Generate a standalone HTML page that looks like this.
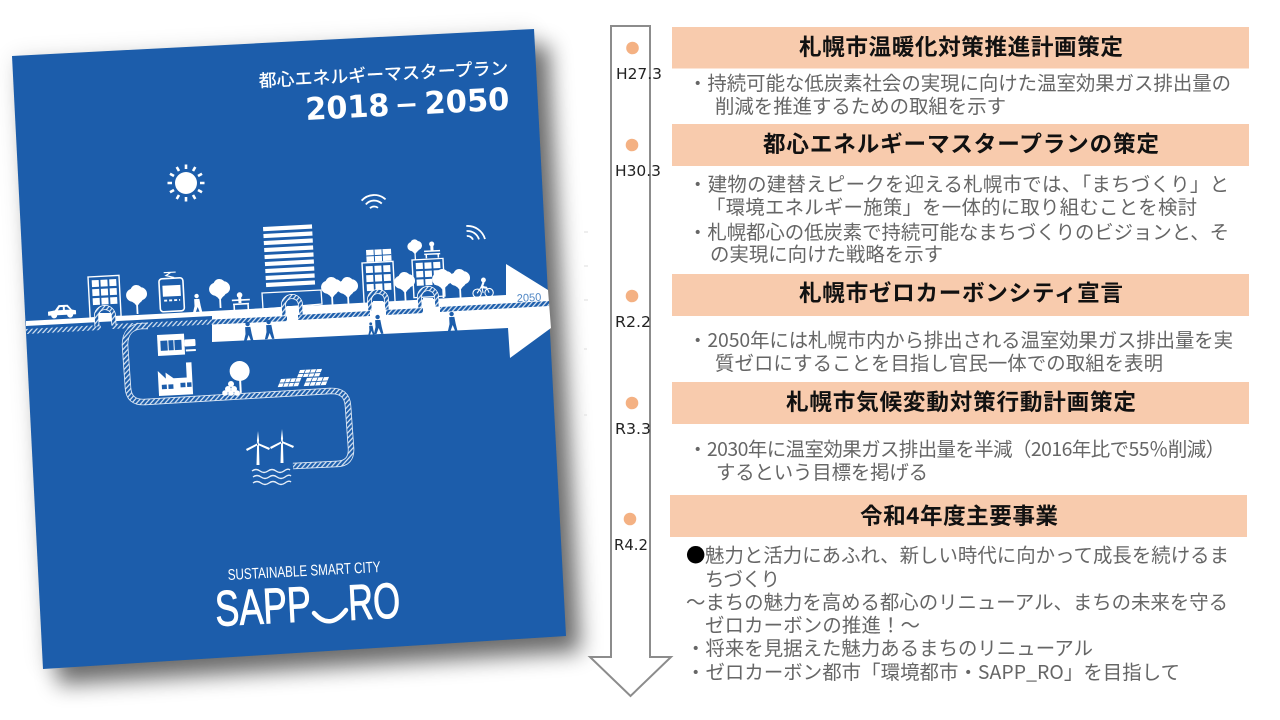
<!DOCTYPE html>
<html><head><meta charset="utf-8"><style>
html,body{margin:0;padding:0;background:#fff;width:1280px;height:720px;overflow:hidden}
svg{display:block}
.h{font-family:"Noto Sans CJK JP",sans-serif;font-weight:700;font-size:22.6px;fill:#111;text-anchor:middle}
.b{font-family:"Noto Sans CJK JP",sans-serif;font-size:19.4px;fill:#666}
.d{font-family:"DejaVu Sans",sans-serif;font-size:15px;fill:#222}
.w{font-family:"Liberation Sans","Noto Sans CJK JP",sans-serif;fill:#fff}
</style></head><body>
<svg width="1280" height="720" viewBox="0 0 1280 720" xmlns="http://www.w3.org/2000/svg">
<defs>
<filter id="sh" x="-20%" y="-20%" width="140%" height="140%"><feGaussianBlur stdDeviation="11"/></filter>
<filter id="s2" x="-5%" y="-5%" width="110%" height="110%"><feGaussianBlur stdDeviation="0.35"/></filter>
<pattern id="ht" width="5" height="5" patternUnits="userSpaceOnUse" patternTransform="rotate(-3)">
<rect width="5" height="5" fill="#1a5dab"/><path d="M-1,6 L6,-1 M-1,1 L1,-1 M4,6 L6,4" stroke="#dfe9f5" stroke-width="1.2"/></pattern>
<g id="tree"><circle cx="-4" cy="-8" r="6.5" fill="#fff"/><circle cx="4" cy="-9" r="6.5" fill="#fff"/><circle cx="0" cy="-12" r="6" fill="#fff"/><circle cx="0" cy="-6" r="6.5" fill="#fff"/><path d="M0,-4 V11 M-4,-3 L0,2 M4,-3 L0,2" stroke="#fff" stroke-width="1.8" fill="none"/></g>
<g id="person"><circle cx="0" cy="-8" r="2.2"/><path d="M-2.6,-5 H2.6 L3.6,2 L5,9 H2.6 L0.5,3 L-2,9 H-4.6 L-2.6,2 Z"/></g>
<g id="bldg"><rect x="0" y="0" width="31" height="41" fill="#1a5dab" stroke="#fff" stroke-width="1.4"/>
<g fill="#fff"><rect x="3.5" y="3.5" width="7" height="6.8"/><rect x="12.2" y="3.5" width="7" height="6.8"/><rect x="21" y="3.5" width="7" height="6.8"/><rect x="3.5" y="12.5" width="7" height="6.8"/><rect x="12.2" y="12.5" width="7" height="6.8"/><rect x="21" y="12.5" width="7" height="6.8"/><rect x="3.5" y="21.5" width="7" height="6.8"/><rect x="12.2" y="21.5" width="7" height="6.8"/><rect x="21" y="21.5" width="7" height="6.8"/></g></g>
<g id="arch"><path d="M-8.5,9 V-1 A8.5,8.5 0 0 1 8.5,-1 V9" fill="none" stroke="#fff" stroke-width="5"/><path d="M-8.5,9 V-1 A8.5,8.5 0 0 1 8.5,-1 V9" fill="none" stroke="url(#ht)" stroke-width="3.4"/></g>
<g id="turb"><path d="M-1.5,16 L-.7,-11 H.7 L1.5,16 Z M0,-18 L1.1,-8 L0,-5 L-1.1,-8 Z M0,-6 L12,-1 L11,1 L0,-4 Z M0,-6 L-12,0 L-11,2 L0,-4 Z" fill="#fff"/></g>
<g id="panel"><rect width="24" height="8" fill="#fff"/><path d="M6,0 V8 M12,0 V8 M18,0 V8 M0,4 H24" stroke="#1a5dab" stroke-width=".9"/></g>
</defs>

<!-- cover shadow -->
<polygon points="12,56 534,29 566,636 43,669" transform="translate(15,16)" fill="#000" opacity=".55" filter="url(#sh)"/>
<polygon points="12,56 534,29 566,636 43,669" fill="#000" opacity=".1" filter="url(#sh)"/>
<g filter="url(#s2)">
<polygon points="12,56 534,29 566,636 43,669" fill="#1a5dab"/>

<text class="w" transform="translate(259,87) rotate(-3)" font-size="17.6" font-weight="500" textLength="250" lengthAdjust="spacingAndGlyphs">都心エネルギーマスタープラン</text>
<text class="w" transform="translate(306,120) rotate(-3)" font-size="31" font-weight="700" style="font-family:'DejaVu Sans',sans-serif" textLength="84" lengthAdjust="spacingAndGlyphs">2018</text>
<text class="w" transform="translate(397,114) rotate(-3)" font-size="31" font-weight="700" style="font-family:'Liberation Sans',sans-serif" textLength="20" lengthAdjust="spacingAndGlyphs">–</text>
<text class="w" transform="translate(425,114) rotate(-3)" font-size="31" font-weight="700" style="font-family:'DejaVu Sans',sans-serif" textLength="85" lengthAdjust="spacingAndGlyphs">2050</text>

<!-- sun -->
<g transform="translate(186,183)"><circle r="11" fill="#fff"/>
<g stroke="#fff" stroke-width="2.6"><path d="M0,-14 V-18.5 M0,14 V18.5 M-14,0 H-18.5 M14,0 H18.5 M7,-12 L9.3,-16 M-7,-12 L-9.3,-16 M7,12 L9.3,16 M-7,12 L-9.3,16 M12,-7 L16,-9.3 M-12,-7 L-16,-9.3 M12,7 L16,9.3 M-12,7 L-16,9.3"/></g></g>

<!-- wifi -->
<g transform="translate(374,208) rotate(-3)" fill="none" stroke="#fff" stroke-width="1.8"><path d="M-12,-8 A17,17 0 0 1 12,-8 M-8,-4 A11,11 0 0 1 8,-4 M-4,0 A6,6 0 0 1 4,0"/></g>
<g transform="translate(467,240) rotate(-3)" fill="none" stroke="#fff" stroke-width="1.8"><path d="M0,-14 A18,18 0 0 1 18,0 M0,-9 A12,12 0 0 1 12,0 M0,-4 A6,6 0 0 1 6,0"/></g>

<!-- tower -->
<g transform="translate(263,227) rotate(-3)" fill="#fff"><rect x="0" y="0" width="49" height="4.2"/><rect x="0" y="7" width="49" height="4.2"/><rect x="0" y="14" width="49" height="4.2"/><rect x="0" y="21" width="49" height="4.2"/><rect x="0" y="28" width="49" height="4.2"/><rect x="0" y="35" width="49" height="4.2"/><rect x="0" y="42" width="49" height="4.2"/><rect x="0" y="49" width="49" height="4.2"/><rect x="0" y="56" width="49" height="4.2"/></g>
<polygon points="262,293 321,290 322,304 263,309" fill="#1a5dab" stroke="#fff" stroke-width="1.3"/>

<!-- buildings -->
<use href="#bldg" transform="translate(88,277) rotate(-3)"/>
<use href="#bldg" transform="translate(362,263) rotate(-3)"/>
<use href="#bldg" transform="translate(412,260) rotate(-3) scale(1,.92)"/>
<g transform="translate(366,250) rotate(-3)"><rect width="25" height="12" fill="#fff"/><path d="M8,0 V12 M16,0 V12 M0,6 H25" stroke="#1a5dab" stroke-width="1"/></g>

<!-- trees -->
<use href="#tree" transform="translate(137,303) rotate(-3)"/>
<use href="#tree" transform="translate(220,297) rotate(-3)"/>
<use href="#tree" transform="translate(332,295) rotate(-3)"/>
<use href="#tree" transform="translate(348,295) rotate(-3)"/>
<use href="#tree" transform="translate(405,290) rotate(-3)"/>
<use href="#tree" transform="translate(443,287) rotate(-3)"/>
<use href="#tree" transform="translate(460,287) rotate(-3)"/>
<use href="#tree" transform="translate(415,252) rotate(-3) scale(.7)"/>

<!-- car -->
<g transform="translate(62,312) rotate(-3)" fill="#fff"><path d="M-14,3 V-1 L-7,-2 L-3,-7 H6 L10,-2 L14,-1 V3 Z"/><circle cx="-8" cy="3" r="3"/><circle cx="8" cy="3" r="3"/><path d="M-4,-2 L-2,-5 H1 V-2 Z M3,-2 V-5 H5 L8,-2 Z" fill="#1a5dab"/></g>

<!-- tram -->
<g transform="translate(158,279) rotate(-3)"><rect x=".8" y="0" width="24" height="33" rx="3" fill="#1a5dab" stroke="#fff" stroke-width="1.6"/><rect x="4" y="7" width="18" height="11" fill="#fff"/><path d="M5,22 H21" stroke="#fff" stroke-width="1.8" stroke-dasharray="3 2"/><path d="M6,-6 H18 M13,-6 L8,-3 L15,-1 L13,0" stroke="#fff" stroke-width="1.2" fill="none"/></g>

<use href="#person" fill="#fff" transform="translate(197,304) rotate(-3)"/>
<g transform="translate(241,303) rotate(-3)" fill="none" stroke="#fff" stroke-width="1.6"><path d="M-9,-3 H9 M-8,1 H8 M-7,1 V7 M7,1 V7"/><circle cx="-1" cy="-8" r="2" fill="#fff"/><path d="M-1,-6 V0" stroke-width="3"/></g>

<!-- bench on roof -->
<g transform="translate(432,250) rotate(-3)" fill="none" stroke="#fff" stroke-width="1.5"><path d="M-8,1 H8 M-8,4 H8 M-6,4 V8 M6,4 V8"/><circle cx="0" cy="-6" r="1.8" fill="#fff"/><path d="M0,-4 V1" stroke-width="3"/></g>

<!-- bike -->
<g transform="translate(483,291) rotate(-3)" fill="none" stroke="#fff" stroke-width="1.1"><circle cx="-6" cy="2" r="4.2"/><circle cx="6" cy="2" r="4.2"/><path d="M-6,2 L-1,-5 L4,-3 L6,2 M-1,-5 L0,2"/><circle cx="1" cy="-11" r="1.9" fill="#fff"/><path d="M1,-9 L-1,-4 L4,-3" stroke-width="2.2"/></g>

<!-- road + arrow -->
<polygon points="26,321 212,311 212,316 26,326" fill="#fff"/>
<polygon points="212,311 506,295 506,264 548,290 551,328 510,358 508,328 212,342" fill="#fff"/>
<polygon points="26,329 102,325 102,330 26,334" fill="url(#ht)"/>
<polygon points="112,324 289,316 289,321 112,329" fill="url(#ht)"/>
<polygon points="298,315 370,311 370,316 298,320" fill="url(#ht)"/>
<polygon points="386,310 424,308 424,313 386,315" fill="url(#ht)"/>
<polygon points="440,307 549,301 549,306 440,312" fill="url(#ht)"/>

<!-- pipe -->
<path d="M148,326 H142 Q125,327 125,345 L128,388 Q129,403 145,402 L330,391 Q347,390 348,406 L351,448 Q352,464 336,464 L293,466" fill="none" stroke="#dfe9f5" stroke-width="6.5"/>
<path d="M148,326 H142 Q125,327 125,345 L128,388 Q129,403 145,402 L330,391 Q347,390 348,406 L351,448 Q352,464 336,464 L293,466" fill="none" stroke="url(#ht)" stroke-width="4.8"/>

<!-- arches -->
<use href="#arch" transform="translate(105,317) rotate(-3)"/>
<use href="#arch" transform="translate(292,306) rotate(-3)"/>
<use href="#arch" transform="translate(378,301) rotate(-3)"/>
<use href="#arch" transform="translate(428,298) rotate(-3)"/>
<rect x="99" y="313" width="12" height="7" fill="#fff"/>
<rect x="101" y="323" width="9" height="9" fill="#1a5dab"/>
<rect x="287" y="306" width="10" height="18" fill="#fff"/>
<rect x="373" y="301" width="10" height="18" fill="#fff"/>
<rect x="423" y="298" width="10" height="18" fill="#fff"/>

<text transform="translate(517,302) rotate(-3)" font-family="Liberation Sans,sans-serif" font-size="11" fill="#4f86c4">2050</text>

<!-- people -->
<use href="#person" fill="#1a5dab" transform="translate(248,332) rotate(-3)"/>
<use href="#person" fill="#1a5dab" transform="translate(269,330) rotate(-3)"/>
<use href="#person" fill="#1a5dab" transform="translate(378,325) rotate(-3)"/>
<use href="#person" fill="#1a5dab" transform="translate(371,329) rotate(-3) scale(.65)"/>
<use href="#person" fill="#1a5dab" transform="translate(452,322) rotate(-3)"/>

<!-- shop -->
<g transform="translate(157,335) rotate(-3)"><rect width="27" height="21" fill="#fff"/><rect x="3" y="6" width="7" height="10" fill="#1a5dab"/><rect x="11" y="6" width="5" height="10" fill="#1a5dab"/><rect x="17" y="6" width="7" height="10" fill="#1a5dab"/><rect x="27" y="6" width="11" height="7" rx="1" fill="#fff"/><path d="M28,17 H38" stroke="#fff" stroke-width="2"/></g>
<!-- factory -->
<g transform="translate(158,376) rotate(-3) scale(1.1,1)"><path d="M0,-5 L7,3 V-3 L14,3 H26 V-12 H31 V20 H0 Z" fill="#fff"/><rect x="3" y="9" width="4.5" height="4.5" fill="#1a5dab"/><rect x="9" y="9" width="4.5" height="4.5" fill="#1a5dab"/><rect x="20" y="8" width="4.5" height="4.5" fill="#1a5dab"/><rect x="26" y="8" width="4" height="4.5" fill="#1a5dab"/></g>
<!-- forest + logs -->
<g transform="translate(240,378) rotate(-3)"><ellipse cx="0" cy="-7" rx="10" ry="10" fill="#fff"/><path d="M0,-3 V15" stroke="#fff" stroke-width="2"/></g>
<g fill="#fff"><circle cx="231" cy="384" r="3"/><circle cx="228" cy="389" r="3"/><circle cx="234" cy="389" r="3"/><circle cx="225" cy="393" r="2.8"/><circle cx="231" cy="393" r="2.8"/><circle cx="237" cy="393" r="2.8"/></g>
<!-- solar -->
<use href="#panel" transform="translate(300,370) rotate(-3) skewX(-25) scale(.92,.9)"/>
<use href="#panel" transform="translate(281,379) rotate(-3) skewX(-25) scale(.85,1)"/>
<use href="#panel" transform="translate(307,378) rotate(-3) skewX(-25) scale(.92,1)"/>
<!-- turbines -->
<use href="#turb" transform="translate(258,449)"/>
<use href="#turb" transform="translate(282,447)"/>
<g fill="none" stroke="#e6eef8" stroke-width="1.4"><path d="M252,471 q4,-3 8,0 t8,0 t8,0 t8,0 t6,-1"/><path d="M253,477 q4,-3 8,0 t8,0 t8,0 t8,0 t6,-1"/><path d="M253,483 q4,-3 8,0 t8,0 t8,0 t8,0 t6,-1"/></g>

<!-- footer -->
<text class="w" transform="translate(228,580) rotate(-3)" font-size="15.5" style="font-family:'Liberation Sans',sans-serif" textLength="153" lengthAdjust="spacingAndGlyphs">SUSTAINABLE SMART CITY</text>
<text class="w" transform="translate(216,626) rotate(-3)" font-size="50" stroke="#fff" stroke-width="1" style="font-family:'Liberation Sans',sans-serif" textLength="96" lengthAdjust="spacingAndGlyphs">SAPP</text>
<text class="w" transform="translate(349,620) rotate(-3)" font-size="50" stroke="#fff" stroke-width="1" style="font-family:'Liberation Sans',sans-serif" textLength="52" lengthAdjust="spacingAndGlyphs">RO</text>
<path d="M314,613 Q330,631 346,610" fill="none" stroke="#fff" stroke-width="4.5" stroke-linecap="round"/>
</g>

<!-- timeline arrow -->
<polygon points="611,26 650,26 650,657 671,657 630.5,696 590,657 611,657" fill="#fff" stroke="#8c8c8c" stroke-width="2"/>
<g fill="#f4b183"><circle cx="632.5" cy="48" r="6.3"/><circle cx="632" cy="145" r="6.3"/><circle cx="632" cy="296" r="6.3"/><circle cx="632" cy="403" r="6.3"/><circle cx="630" cy="519" r="6.3"/></g>
<text class="d" x="616" y="79" textLength="46" lengthAdjust="spacingAndGlyphs">H27.3</text>
<text class="d" x="615" y="176" textLength="46" lengthAdjust="spacingAndGlyphs">H30.3</text>
<text class="d" x="615" y="327" textLength="36" lengthAdjust="spacingAndGlyphs">R2.2</text>
<text class="d" x="615" y="434" textLength="36" lengthAdjust="spacingAndGlyphs">R3.3</text>
<text class="d" x="614" y="550" textLength="34" lengthAdjust="spacingAndGlyphs">R4.2</text>

<!-- faint artifacts -->
<g stroke="#ddd" stroke-width="1"><path d="M584,232 h4 M584,266 h4 M584,300 h4 M584,349 h3 M584,415 h3"/></g>

<!-- bars -->
<g fill="#f8cbad"><rect x="672" y="27" width="577" height="41.5"/><rect x="672" y="124" width="577" height="42"/><rect x="672" y="274" width="577" height="42"/><rect x="672" y="382" width="577" height="42"/><rect x="670" y="495" width="577" height="42"/></g>
<text class="h" x="961" y="55" textLength="324" lengthAdjust="spacing">札幌市温暖化対策推進計画策定</text>
<text class="h" x="961" y="152" textLength="396" lengthAdjust="spacing">都心エネルギーマスタープランの策定</text>
<text class="h" x="961" y="301" textLength="324" lengthAdjust="spacing">札幌市ゼロカーボンシティ宣言</text>
<text class="h" x="961" y="410" textLength="350" lengthAdjust="spacing">札幌市気候変動対策行動計画策定</text>
<text class="h" x="959" y="524" textLength="198" lengthAdjust="spacing">令和4年度主要事業</text>

<!-- body -->
<text class="b" x="688" y="90" textLength="543" lengthAdjust="spacing">・持続可能な低炭素社会の実現に向けた温室効果ガス排出量の</text>
<text class="b" x="715" y="113" textLength="291" lengthAdjust="spacing">削減を推進するための取組を示す</text>
<text class="b" x="688" y="191" textLength="541" lengthAdjust="spacing">・建物の建替えピークを迎える札幌市では、「まちづくり」と</text>
<text class="b" x="706" y="214" textLength="491" lengthAdjust="spacing">「環境エネルギー施策」を一体的に取り組むことを検討</text>
<text class="b" x="688" y="239" textLength="541" lengthAdjust="spacing">・札幌都心の低炭素で持続可能なまちづくりのビジョンと、そ</text>
<text class="b" x="710" y="261" textLength="233" lengthAdjust="spacing">の実現に向けた戦略を示す</text>
<text class="b" x="688" y="347" textLength="545" lengthAdjust="spacing">・2050年には札幌市内から排出される温室効果ガス排出量を実</text>
<text class="b" x="715" y="370" textLength="448" lengthAdjust="spacing">質ゼロにすることを目指し官民一体での取組を表明</text>
<text class="b" x="688" y="456" textLength="537" lengthAdjust="spacing">・2030年に温室効果ガス排出量を半減（2016年比で55％削減）</text>
<text class="b" x="716" y="479" textLength="212" lengthAdjust="spacing">するという目標を掲げる</text>
<text class="b" x="686" y="562" style="fill:#000">●</text>
<text class="b" x="705" y="562" textLength="524" lengthAdjust="spacing">魅力と活力にあふれ、新しい時代に向かって成長を続けるま</text>
<text class="b" x="705" y="586" textLength="75" lengthAdjust="spacing">ちづくり</text>
<text class="b" x="686" y="609" textLength="542" lengthAdjust="spacing">～まちの魅力を高める都心のリニューアル、まちの未来を守る</text>
<text class="b" x="705" y="632" textLength="215" lengthAdjust="spacing">ゼロカーボンの推進！～</text>
<text class="b" x="686" y="655" textLength="407" lengthAdjust="spacing">・将来を見据えた魅力あるまちのリニューアル</text>
<text class="b" x="686" y="679" textLength="494" lengthAdjust="spacing">・ゼロカーボン都市「環境都市・SAPP_RO」を目指して</text>
</svg>
</body></html>
